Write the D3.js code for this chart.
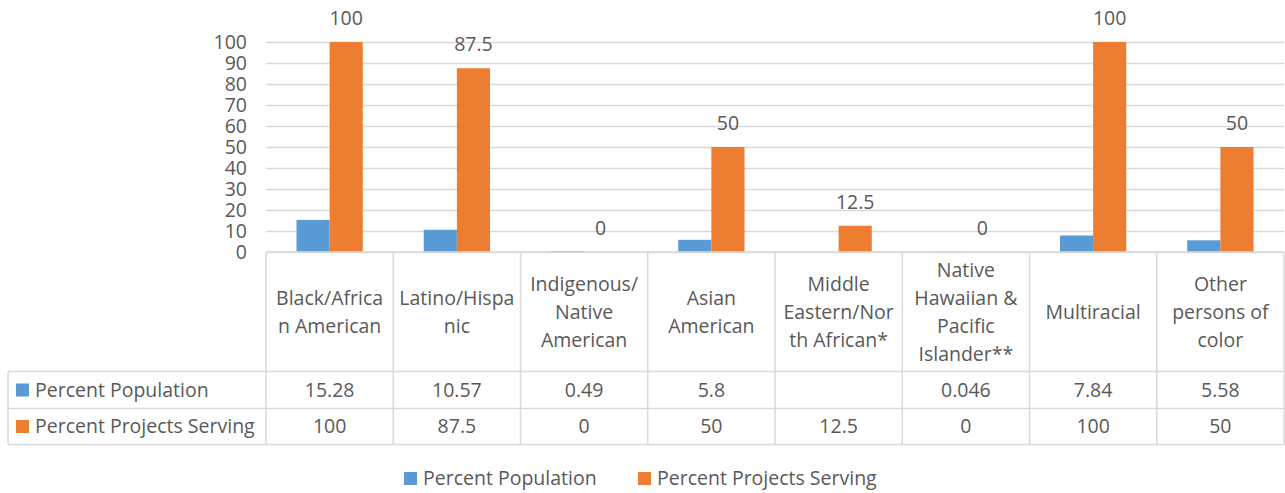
<!DOCTYPE html>
<html><head><meta charset="utf-8">
<script src="https://cdn.jsdelivr.net/npm/d3@7"></script>
<style>
body{margin:0;background:#fff;}
text{font-family:"Open Sans",sans-serif;fill:#595959;}
</style></head>
<body><svg id="c" width="1285" height="493"></svg>
<script>
const categories = ["Black/African American","Latino/Hispanic","Indigenous/Native American","Asian American","Middle Eastern/North African*","Native Hawaiian & Pacific Islander**","Multiracial","Other persons of color"];
const categoryLines = [["Black/Africa","n American"],["Latino/Hispa","nic"],["Indigenous/","Native","American"],["Asian","American"],["Middle","Eastern/Nor","th African*"],["Native","Hawaiian &","Pacific","Islander**"],["Multiracial"],["Other","persons of","color"]];
const seriesNames = ["Percent Population","Percent Projects Serving"];
const percentPopulation = [15.28,10.57,0.49,5.8,null,0.046,7.84,5.58];
const percentPopulationText = ["15.28","10.57","0.49","5.8","","0.046","7.84","5.58"];
const percentProjects = [100,87.5,0,50,12.5,0,100,50];
const percentProjectsText = ["100","87.5","0","50","12.5","0","100","50"];
const yTicks = [0,10,20,30,40,50,60,70,80,90,100];
const colors = ["#5B9BD5","#ED7D31"];

const FS = "19.5px";
const svg = d3.select("#c");
const pLeft = 266, pRight = 1284, pTop = 42, base = 252;
const x = d3.scaleBand().domain(categories).range([pLeft,pRight]);
const x1 = d3.scaleBand().domain(seriesNames).range([0,x.bandwidth()]).paddingOuter(0.92).paddingInner(0);
const y = d3.scaleLinear().domain([0,100]).range([base,pTop]);

// gridlines
svg.append("g").attr("transform",`translate(${pLeft},0)`)
  .call(d3.axisLeft(y).tickValues(yTicks).tickSize(-(pRight-pLeft)).tickFormat(""))
  .call(g=>g.select(".domain").remove())
  .call(g=>g.selectAll("line").attr("stroke","#d9d9d9").attr("stroke-width",1.3));

// y labels
svg.append("g").attr("transform",`translate(247,0)`)
  .call(d3.axisLeft(y).tickValues(yTicks).tickSize(0).tickPadding(0))
  .call(g=>g.select(".domain").remove())
  .call(g=>g.selectAll("text").style("font-size",FS).attr("fill","#595959").style("font-family","'Open Sans',sans-serif"));

// bars
const series = [percentPopulation, percentProjects];
series.forEach((vals,si)=>{
  svg.append("g").selectAll("rect").data(categories.map((c,i)=>({c,v:vals[i]})).filter(d=>d.v!=null))
    .join("rect")
    .attr("x",d=>x(d.c)+x1(seriesNames[si]))
    .attr("width",x1.bandwidth())
    .attr("y",d=>y(d.v))
    .attr("height",d=>base-y(d.v))
    .attr("fill",colors[si]);
});
// data labels for projects
svg.append("g").selectAll("text").data(categories.map((c,i)=>({c,v:percentProjects[i],t:percentProjectsText[i]})))
  .join("text")
  .attr("x",d=>x(d.c)+x1(seriesNames[1])+x1.bandwidth()/2)
  .attr("y",d=>y(d.v)-24)
  .attr("dy","0.35em")
  .attr("text-anchor","middle")
  .style("font-size",FS)
  .text(d=>d.t);

// table
const gridC = "#d9d9d9";
const hTop = base, hBot = 371.5, r1 = 408.5, r2 = 444.5, tLeft = 8;
const tg = svg.append("g").attr("stroke",gridC).attr("stroke-width",1.5);
tg.append("line").attr("x1",pLeft).attr("x2",pRight).attr("y1",hTop).attr("y2",hTop);
[hBot,r1,r2].forEach(yy=>tg.append("line").attr("x1",tLeft).attr("x2",pRight).attr("y1",yy).attr("y2",yy));
tg.append("line").attr("x1",tLeft).attr("x2",tLeft).attr("y1",hBot).attr("y2",r2);
categories.forEach(c=>tg.append("line").attr("x1",x(c)).attr("x2",x(c)).attr("y1",hTop).attr("y2",r2));
tg.append("line").attr("x1",pRight).attr("x2",pRight).attr("y1",hTop).attr("y2",r2);

// header labels
const lh = 28;
svg.append("g").selectAll("text").data(categories.map((c,i)=>({c,lines:categoryLines[i]})))
  .join("text")
  .attr("text-anchor","middle")
  .style("font-size",FS)
  .each(function(d){
    const n = d.lines.length;
    const cy = (hTop+hBot)/2;
    d3.select(this).selectAll("tspan").data(d.lines).join("tspan")
      .attr("x",x(d.c)+x.bandwidth()/2)
      .attr("y",(l,j)=>cy+(j-(n-1)/2)*lh)
      .attr("dy","0.35em")
      .text(l=>l);
  });

// rows
const rows = [percentPopulationText, percentProjectsText];
const rowY = [(hBot+r1)/2,(r1+r2)/2];
rows.forEach((vals,ri)=>{
  svg.append("rect").attr("x",16).attr("y",rowY[ri]-6.5).attr("width",13).attr("height",13).attr("fill",colors[ri]);
  svg.append("text").attr("x",35).attr("y",rowY[ri]).attr("dy","0.35em").style("font-size",FS).text(seriesNames[ri]);
  svg.append("g").selectAll("text").data(categories.map((c,i)=>({c,t:vals[i]})))
    .join("text").attr("text-anchor","middle")
    .attr("x",d=>x(d.c)+x.bandwidth()/2).attr("y",rowY[ri]).attr("dy","0.35em")
    .style("font-size",FS).text(d=>d.t);
});

// legend
const leg = [{n:seriesNames[0],x:404,c:colors[0]},{n:seriesNames[1],x:638,c:colors[1]}];
leg.forEach(l=>{
  svg.append("rect").attr("x",l.x).attr("y",472).attr("width",13).attr("height",13).attr("fill",l.c);
  svg.append("text").attr("x",l.x+19).attr("y",478.5).attr("dy","0.35em").style("font-size",FS).text(l.n);
});
</script></body></html>
